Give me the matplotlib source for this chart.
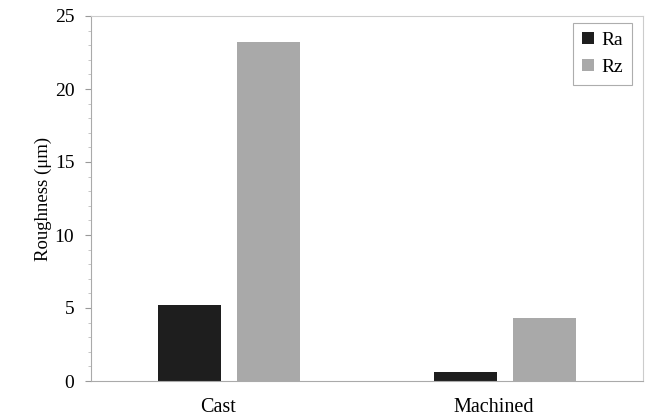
import matplotlib
matplotlib.use("Agg")
import matplotlib.pyplot as plt
import numpy as np
from matplotlib.ticker import MultipleLocator

categories = ["Cast", "Machined"]
ra_values = [5.2, 0.6]
rz_values = [23.2, 4.3]

plt.rcParams['font.family'] = ['Liberation Serif', 'DejaVu Serif']

fig = plt.figure(figsize=(6.52, 4.16), dpi=100)
ax = fig.add_axes([91/652, 1-381/416, (643-91)/652, (381-16)/416])

x = np.arange(len(categories))
w = 0.227
off = 0.143
ax.bar(x - off, ra_values, w, color='#1e1e1e', label='Ra')
ax.bar(x + off, rz_values, w, color='#a9a9a9', label='Rz')

ax.set_xlim(-0.5, 1.5)
ax.set_ylim(0, 25)
ax.set_xticks(x - 0.04)
ax.set_xticklabels(categories, fontsize=14.5)
ax.yaxis.set_major_locator(MultipleLocator(5))
ax.yaxis.set_minor_locator(MultipleLocator(1))
ax.tick_params(axis='y', labelsize=14, color='#999999', length=4, direction='out', pad=8)
ax.tick_params(axis='y', which='minor', color='#bbbbbb', length=2)
ax.tick_params(axis='x', length=0, pad=12)
ax.set_ylabel("Roughness (μm)", fontsize=13.5, labelpad=2)
for s in ax.spines.values():
    s.set_color('#aaaaaa')
    s.set_linewidth(0.8)
ax.spines['top'].set_color('#cccccc')
ax.spines['right'].set_color('#cccccc')

leg = ax.legend(loc='upper right', fontsize=14, handlelength=0.6, handleheight=0.6,
                handletextpad=0.4, fancybox=False, borderpad=0.45, labelspacing=0.5,
                borderaxespad=0, bbox_to_anchor=(0.98, 0.98))
leg.get_frame().set_edgecolor('#999999')
leg.get_frame().set_linewidth(0.8)

fig.savefig("out.png", dpi=100)
